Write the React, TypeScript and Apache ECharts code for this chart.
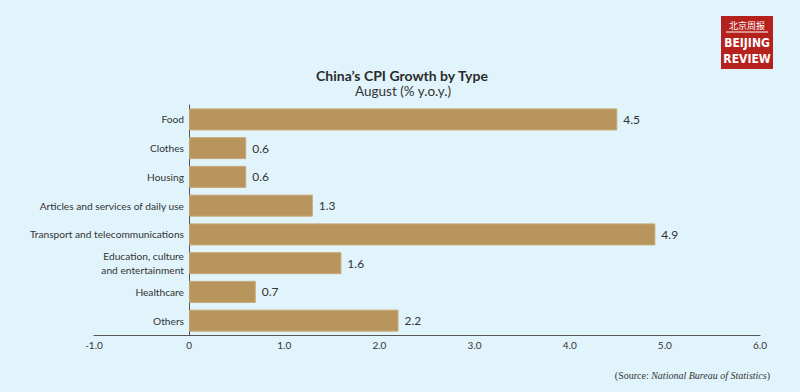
import React, { useEffect, useRef } from "react";
import * as echarts from "echarts";

const categories = [
  "Food",
  "Clothes",
  "Housing",
  "Articles and services of daily use",
  "Transport and telecommunications",
  "Education, culture\nand entertainment",
  "Healthcare",
  "Others",
];
const values = [4.5, 0.6, 0.6, 1.3, 4.9, 1.6, 0.7, 2.2];
const xTicks = { min: -1, max: 6, interval: 1 };
const titleText = "China\u2019s CPI Growth by Type";
const subtitleText = "August (% y.o.y.)";

const BG = "#e1f3fb";
const BAR = "#b8955c";

export default function App() {
  const ref = useRef<HTMLDivElement>(null);
  useEffect(() => {
    if (!ref.current) return;
    const chart = echarts.init(ref.current, null, { renderer: "svg" });
    chart.setOption({
      animation: false,
      backgroundColor: BG,
      grid: {
        left: 94,
        right: 40,
        top: 105,
        bottom: 57,
        containLabel: false,
        outerBoundsMode: "none",
      },
      xAxis: {
        type: "value",
        min: xTicks.min,
        max: xTicks.max,
        interval: xTicks.interval,
        axisLine: { show: true, onZero: false, lineStyle: { color: "#555", width: 1 } },
        axisTick: { show: false },
        splitLine: { show: false },
        axisLabel: {
          fontFamily: "Lato",
          fontSize: 10,
          color: "#333",
          margin: 5,
          formatter: (v: number) => (v === 0 ? "0" : v.toFixed(1)),
        },
      },
      yAxis: {
        type: "category",
        data: categories,
        inverse: true,
        offset: -95,
        axisLine: { show: true, onZero: false, lineStyle: { color: "#555", width: 1 } },
        axisTick: { show: false },
        axisLabel: {
          fontFamily: "Lato",
          fontSize: 10.2,
          color: "#333",
          margin: 5,
          lineHeight: 14,
          align: "right",
        },
      },
      series: [
        {
          type: "bar",
          data: values,
          barWidth: 22,
          itemStyle: { color: BAR, borderColor: "#c7a876", borderWidth: 1 },
          label: {
            show: true,
            position: "right",
            distance: 6,
            fontFamily: "Lato",
            fontSize: 12,
            color: "#333",
            formatter: (p: any) => p.value.toFixed(1),
          },
        },
      ],
      graphic: [
        {
          type: "text",
          x: 402,
          y: 75,
          style: {
            text: titleText,
            fill: "#2b2b2b",
            fontFamily: "Lato",
            fontWeight: "bold",
            fontSize: 14,
            lineHeight: 15,
            align: "center",
            verticalAlign: "middle",
          },
        },
        {
          type: "text",
          x: 403,
          y: 91,
          style: {
            text: subtitleText,
            fill: "#333",
            fontFamily: "Lato",
            fontSize: 13.5,
            lineHeight: 15,
            align: "center",
            verticalAlign: "middle",
          },
        },
        {
          type: "rect",
          shape: { x: 721, y: 16, width: 52, height: 53 },
          style: { fill: "#b5221e" },
        },
        {
          type: "text",
          x: 747,
          y: 25,
          style: {
            text: "北京周报",
            fill: "#fff",
            fontFamily: "Noto Sans CJK SC",
            fontSize: 9,
            align: "center",
            verticalAlign: "middle",
          },
        },
        {
          type: "line",
          shape: { x1: 726, y1: 32, x2: 768, y2: 32 },
          style: { stroke: "#fff", lineWidth: 1 },
        },
        {
          type: "text",
          x: 747,
          y: 43,
          style: {
            text: "BEIJING",
            fill: "#fff",
            fontFamily: "DejaVu Sans Condensed",
            fontWeight: "bold",
            fontSize: 12,
            align: "center",
            verticalAlign: "middle",
          },
        },
        {
          type: "text",
          x: 747,
          y: 59,
          style: {
            text: "REVIEW",
            fill: "#fff",
            fontFamily: "DejaVu Sans Condensed",
            fontWeight: "bold",
            fontSize: 12,
            align: "center",
            verticalAlign: "middle",
          },
        },
        {
          type: "text",
          x: 770,
          y: 375,
          style: {
            text: "{n|(Source: }{i|National Bureau of Statistics}{n|)}",
            align: "right",
            verticalAlign: "middle",
            rich: {
              n: { fontFamily: "Liberation Serif", fontSize: 10, fill: "#333", color: "#333" },
              i: { fontFamily: "Liberation Serif", fontSize: 10, fontStyle: "italic", fill: "#333", color: "#333" },
            },
          },
        },
      ],
    });
    return () => chart.dispose();
  }, []);
  return (
    <div
      ref={ref}
      style={{ position: "fixed", left: 0, top: 0, width: 800, height: 392 }}
    />
  );
}
